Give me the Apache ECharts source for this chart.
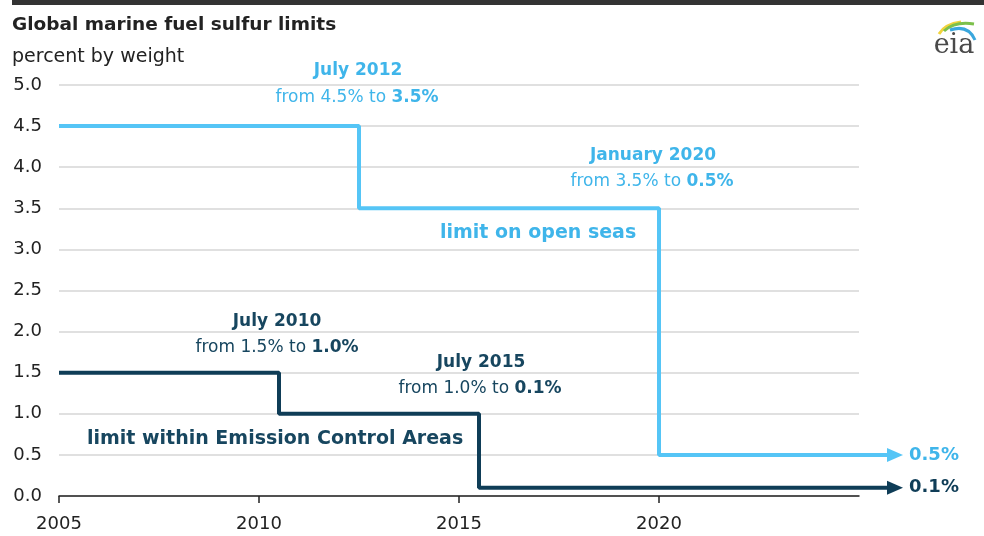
<!DOCTYPE html>
<html>
<head>
<meta charset="utf-8">
<script src="https://cdn.jsdelivr.net/npm/echarts@6/dist/echarts.min.js"></script>
<style>html,body{margin:0;padding:0;background:#fff}#c{width:984px;height:536px}</style>
</head>
<body>
<div id="c"></div>
<script>
// Data
const openSeasDates = [2005, 2012.5, 2020, 2025.9];
const openSeasLimits = [4.5, 3.5, 0.5, 0.5];
const ecaDates = [2005, 2010.5, 2015.5, 2025.9];
const ecaLimits = [1.5, 1.0, 0.1, 0.1];
const xTickValues = [2005, 2010, 2015, 2020];
const openSeasEndLabel = '0.5%';
const ecaEndLabel = '0.1%';

const BLUE = '#55c5f6';
const BLUE_TXT = '#3fb5ea';
const DARK = '#0f3d57';
const DARK_TXT = '#17465f';
const FONT = 'DejaVu Sans';

function buildData(xs, ys) {
  return xs.map((x, i) => {
    if (i === xs.length - 1) {
      return { value: [x, ys[i]], symbol: 'triangle', symbolSize: [14, 16], symbolRotate: -90 };
    }
    return { value: [x, ys[i]], symbol: 'none' };
  });
}

const chart = echarts.init(document.getElementById('c'), null, { renderer: 'canvas' });

function annot(text, x, y, color, align) {
  return {
    type: 'text', x: x, y: y, z: 100,
    style: {
      text: text, x: 0, y: 0, align: align || 'center', verticalAlign: 'middle',
      fill: color, font: '17px "DejaVu Sans"',
      rich: { b: { fontWeight: 'bold', fontSize: 17, fontFamily: FONT, fill: color, color: color } }
    }
  };
}

// Display grid spans 2005-2025 (40 px / year); data grid extends to 2027 with same scale
chart.setOption({
  animation: false,
  backgroundColor: '#fff',
  grid: [
    { left: 59, right: 125, top: 85, bottom: 40, containLabel: false },
    { left: 59, right: 45, top: 85, bottom: 40, containLabel: false }
  ],
  xAxis: [
    {
      gridIndex: 0, type: 'value', min: 2005, max: 2025, interval: 5,
      axisLine: { show: true, lineStyle: { color: '#222', width: 1.5 } },
      axisTick: { show: true, length: 7, lineStyle: { color: '#222', width: 1.5 }, customValues: xTickValues },
      axisLabel: { customValues: xTickValues, margin: 19, color: '#222', fontSize: 18, fontFamily: FONT, formatter: v => String(v) },
      splitLine: { show: false }
    },
    {
      gridIndex: 1, type: 'value', min: 2005, max: 2027, show: false
    }
  ],
  yAxis: [
    {
      gridIndex: 0, type: 'value', min: 0, max: 5, interval: 0.5,
      axisLine: { show: false }, axisTick: { show: false },
      axisLabel: { margin: 17, color: '#222', fontSize: 18, fontFamily: FONT, formatter: v => v.toFixed(1) },
      splitLine: { show: true, lineStyle: { color: '#d6d6d6', width: 1.5 } }
    },
    {
      gridIndex: 1, type: 'value', min: 0, max: 5, show: false
    }
  ],
  series: [
    {
      type: 'line', name: 'limit on open seas', step: 'end', clip: false,
      xAxisIndex: 1, yAxisIndex: 1,
      showSymbol: true, symbol: 'none',
      data: buildData(openSeasDates, openSeasLimits),
      lineStyle: { color: BLUE, width: 4 }, itemStyle: { color: BLUE },
      endLabel: { show: true, formatter: openSeasEndLabel, color: BLUE_TXT, fontWeight: 'bold', fontSize: 18, fontFamily: FONT, distance: 14 },
      z: 3
    },
    {
      type: 'line', name: 'limit within Emission Control Areas', step: 'end', clip: false,
      xAxisIndex: 1, yAxisIndex: 1,
      showSymbol: true, symbol: 'none',
      data: buildData(ecaDates, ecaLimits),
      lineStyle: { color: DARK, width: 4 }, itemStyle: { color: DARK },
      endLabel: { show: true, formatter: ecaEndLabel, color: DARK, fontWeight: 'bold', fontSize: 18, fontFamily: FONT, distance: 14 },
      z: 4
    }
  ],
  graphic: [
    { type: 'rect', shape: { x: 12, y: 0, width: 972, height: 5 }, style: { fill: '#333' } },
    { type: 'text', x: 12, y: 25, style: { text: 'Global marine fuel sulfur limits', font: 'bold 18.5px "DejaVu Sans"', fill: '#222', verticalAlign: 'middle' } },
    { type: 'text', x: 12, y: 57, style: { text: 'percent by weight', font: '19px "DejaVu Sans"', fill: '#222', verticalAlign: 'middle' } },
    // eia logo
    { type: 'text', x: 954, y: 46, style: { text: 'eia', font: '27px "DejaVu Serif"', fill: '#4a4a4a', align: 'center', verticalAlign: 'middle' } },
    { type: 'bezierCurve', shape: { x1: 939, y1: 34, x2: 961, y2: 22, cpx1: 945, cpy1: 24 }, style: { stroke: '#f2d33c', lineWidth: 3, fill: null } },
    { type: 'bezierCurve', shape: { x1: 944, y1: 31, x2: 974, y2: 24, cpx1: 955, cpy1: 21 }, style: { stroke: '#7cc04b', lineWidth: 3, fill: null } },
    { type: 'bezierCurve', shape: { x1: 950, y1: 30, x2: 975, y2: 40, cpx1: 968, cpy1: 24 }, style: { stroke: '#3aa7dd', lineWidth: 3, fill: null } },
    // annotations
    annot('{b|July 2012}', 358, 71, BLUE_TXT),
    annot('from 4.5% to {b|3.5%}', 357, 98, BLUE_TXT),
    annot('{b|January 2020}', 653, 156, BLUE_TXT),
    annot('from 3.5% to {b|0.5%}', 652, 182, BLUE_TXT),
    { type: 'text', x: 440, y: 233, style: { text: 'limit on open seas', font: 'bold 19px "DejaVu Sans"', fill: BLUE_TXT, verticalAlign: 'middle' } },
    annot('{b|July 2010}', 277, 322, DARK_TXT),
    annot('from 1.5% to {b|1.0%}', 277, 348, DARK_TXT),
    annot('{b|July 2015}', 481, 363, DARK_TXT),
    annot('from 1.0% to {b|0.1%}', 480, 389, DARK_TXT),
    { type: 'text', x: 87, y: 439, style: { text: 'limit within Emission Control Areas', font: 'bold 19px "DejaVu Sans"', fill: DARK_TXT, verticalAlign: 'middle' } }
  ]
});
</script>
</body>
</html>
